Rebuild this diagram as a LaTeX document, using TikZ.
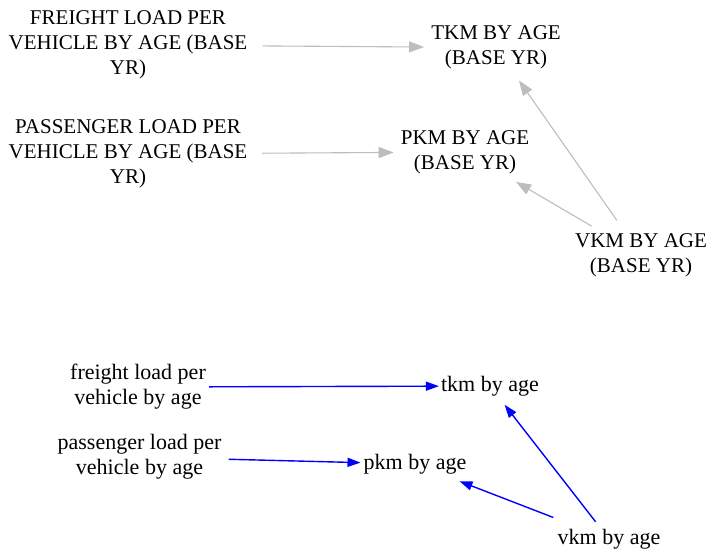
\documentclass[tikz,border=0pt]{standalone}
\usepackage{fontspec}
\setmainfont{Liberation Serif}
\usetikzlibrary{arrows.meta}
\definecolor{linkgray}{HTML}{BDBDBD}
\definecolor{linkblue}{HTML}{0000FF}
\tikzset{
  upper/.style={align=center, font=\fontsize{21}{25}\selectfont, inner sep=7pt},
  lower/.style={align=center, font=\fontsize{22}{25}\selectfont, inner sep=7pt},
  grayarrow/.style={draw=linkgray, line width=1.1pt, -{Triangle[length=15pt,width=11pt,fill=linkgray]}},
  bluearrow/.style={draw=linkblue, line width=1.4pt, -{Triangle[length=13pt,width=9pt,fill=linkblue]}}
}
\begin{document}
\begin{tikzpicture}[x=1pt,y=-1pt]
\useasboundingbox (0,0) rectangle (706,550);
% upper diagram
\node[upper] (fr)  at (128,45)  {FREIGHT LOAD PER\\VEHICLE BY AGE (BASE\\YR)};
\node[upper] (tkm) at (496,47.5) {TKM BY AGE\\(BASE YR)};
\node[upper] (pa)  at (128,154) {PASSENGER LOAD PER\\VEHICLE BY AGE (BASE\\YR)};
\node[upper] (pkm) at (465,152) {PKM BY AGE\\(BASE YR)};
\node[upper] (vkm) at (641,255) {VKM BY AGE\\(BASE YR)};
\draw[grayarrow, shorten <=8pt] (fr) -- (tkm);
\draw[grayarrow, shorten <=8pt] (pa) -- (pkm);
\draw[grayarrow, shorten <=7pt, shorten >=5pt] (vkm) -- (tkm);
\draw[grayarrow, shorten >=2pt] (vkm) -- (pkm);
% lower diagram
\node[lower] (fl) at (138,387) {freight load per\\vehicle by age};
\node[lower] (tk) at (490,386) {tkm by age};
\node[lower] (pl) at (139.5,457) {passenger load per\\vehicle by age};
\node[lower] (pk) at (415,464) {pkm by age};
\node[lower] (vk) at (609,539) {vkm by age};
\draw[bluearrow, shorten <=-4pt, shorten >=-5pt] (fl) -- (tk);
\draw[bluearrow, shorten >=-4pt] (pl) -- (pk);
\draw[bluearrow, shorten >=2pt] (vk) -- (tk);
\draw[bluearrow, shorten <=12pt] (vk) -- (pk);
\end{tikzpicture}
\end{document}
